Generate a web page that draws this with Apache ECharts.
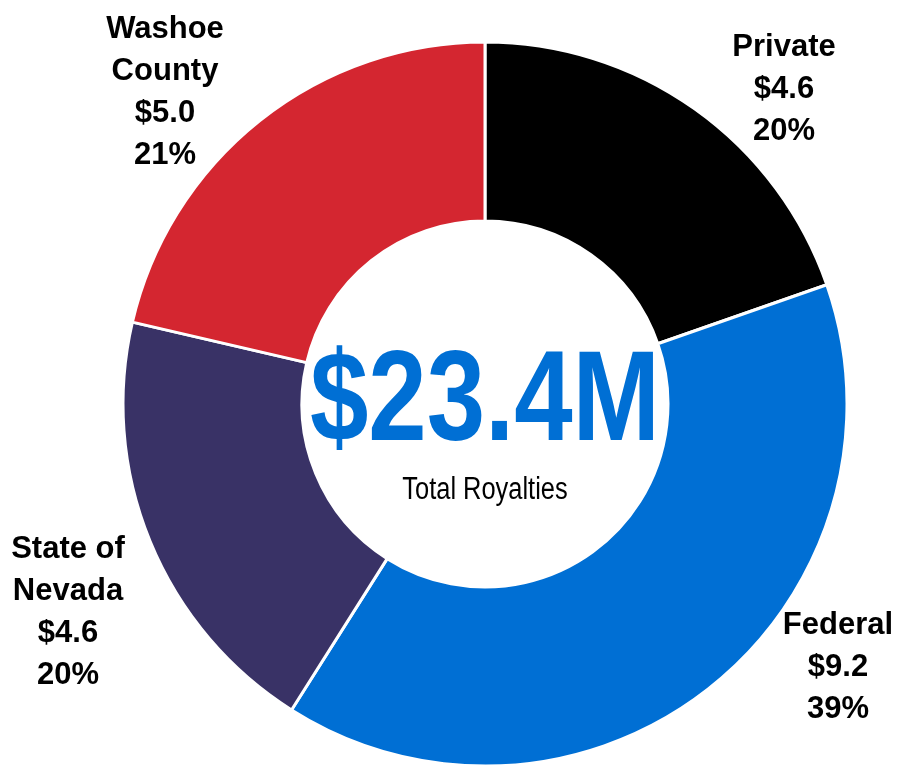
<!DOCTYPE html>
<html>
<head>
  <meta charset="utf-8">
  <title>Total Royalties</title>
  <script src="https://cdn.jsdelivr.net/npm/echarts@6.0.0/dist/echarts.min.js"></script>
  <style>
    html, body { margin: 0; padding: 0; background: #fff; }
    #chart { width: 897px; height: 768px; }
  </style>
</head>
<body>
  <div id="chart"></div>
  <script>
    // data
    let categories = ['Private', 'Federal', 'State of\nNevada', 'Washoe\nCounty'];
    let values = [4.6, 9.2, 4.6, 5.0];
    let shares = ['20%', '39%', '20%', '21%'];
    let colors = ['#000000', '#006fd4', '#393266', '#d42630'];
    let totalText = '$23.4M';
    let subText = 'Total Royalties';

    // label centers (px)
    let labelPos = [[784, 89], [838, 667], [68, 612], [165, 92]];

    let font = '"Liberation Sans", Arial, sans-serif';

    let myChart = echarts.init(document.getElementById('chart'));
    let option = {
      animation: false,
      graphic: [
        {
          type: 'text',
          x: 485, y: 405,
          z: 100,
          scaleX: 0.82,
          style: {
            text: totalText,
            fill: '#006fd4',
            font: 'bold 128px ' + font,
            align: 'center',
            verticalAlign: 'middle',
            shadowColor: 'rgba(0,0,0,0.4)',
            shadowBlur: 4,
            shadowOffsetX: 3,
            shadowOffsetY: 3
          }
        },
        {
          type: 'text',
          x: 485, y: 490,
          z: 100,
          scaleX: 0.82,
          style: {
            text: subText,
            fill: '#000',
            font: '31px ' + font,
            align: 'center',
            verticalAlign: 'middle'
          }
        }
      ],
      series: [
        {
          type: 'pie',
          radius: [183, 362],
          center: [485, 404],
          startAngle: 90,
          clockwise: true,
          avoidLabelOverlap: false,
          itemStyle: {
            borderColor: '#fff',
            borderWidth: 3,
            color: function(params) {
              return colors[params.dataIndex];
            }
          },
          label: {
            show: true,
            position: 'outside',
            formatter: function(params) {
              return params.name + '\n$' + values[params.dataIndex].toFixed(1) + '\n' + shares[params.dataIndex];
            },
            fontFamily: font,
            fontWeight: 'bold',
            fontSize: 31,
            lineHeight: 42,
            color: '#000',
            align: 'center'
          },
          labelLine: { show: false },
          labelLayout: function(params) {
            let p = labelPos[params.dataIndex];
            return { x: p[0], y: p[1], align: 'center', verticalAlign: 'middle' };
          },
          emphasis: { disabled: true },
          data: categories.map(function(c, i) {
            return { name: c, value: values[i] };
          })
        }
      ]
    };
    myChart.setOption(option);
  </script>
</body>
</html>
